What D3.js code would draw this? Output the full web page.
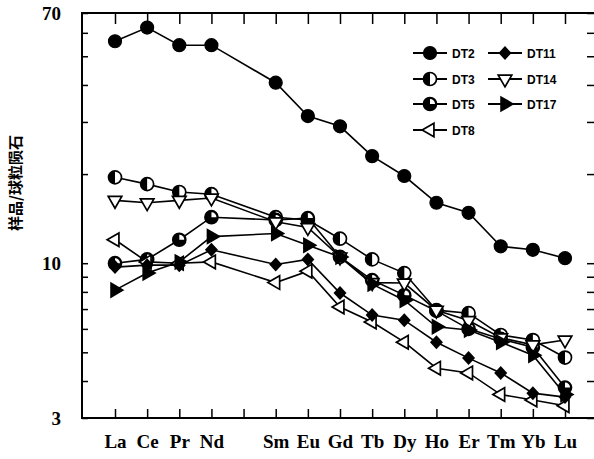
<!DOCTYPE html>
<html>
<head>
<meta charset="utf-8">
<script src="https://cdn.jsdelivr.net/npm/d3@7"></script>
<style>
  body { margin: 0; background: #fff; }
  svg { display: block; }
</style>
</head>
<body>
<div id="chart"></div>
<script>
// REE elements (Pm is left as a gap on the axis)
var elements = ['La', 'Ce', 'Pr', 'Nd', 'Pm', 'Sm', 'Eu', 'Gd', 'Tb', 'Dy', 'Ho', 'Er', 'Tm', 'Yb', 'Lu'];
var plotted = ['La', 'Ce', 'Pr', 'Nd', 'Sm', 'Eu', 'Gd', 'Tb', 'Dy', 'Ho', 'Er', 'Tm', 'Yb', 'Lu'];

// chondrite normalised values, one array per sample, in the order of "plotted"
var DT2  = [56.2, 62.5, 54.5, 54.5, 40.7, 31.4, 29.0, 23.0, 19.7, 16.0, 14.8, 11.4, 11.1, 10.4];
var DT3  = [19.5, 18.5, 17.4, 17.1, 14.3, 14.0, 12.1, 10.3, 9.26, 6.94, 6.78, 5.72, 5.50, 4.80];
var DT5  = [10.0, 10.3, 12.0, 14.3, 14.0, 14.2, 10.5, 8.77, 7.80, 6.90, 6.00, 5.55, 5.20, 3.80];
var DT8  = [12.0, 10.1, 10.0, 10.1, 8.60, 9.40, 7.11, 6.33, 5.41, 4.42, 4.26, 3.60, 3.45, 3.30];
var DT11 = [9.70, 9.85, 9.85, 11.1, 9.90, 10.3, 7.93, 6.68, 6.42, 5.41, 4.78, 4.26, 3.64, 3.53];
var DT14 = [16.3, 16.0, 16.3, 16.6, 13.8, 13.2, 10.5, 8.60, 8.57, 6.94, 6.40, 5.60, 5.30, 5.50];
var DT17 = [8.11, 9.26, 10.1, 12.3, 12.6, 11.5, 10.5, 8.50, 7.50, 6.10, 5.95, 5.41, 4.89, 3.60];

var yTickValues = [3, 4, 5, 6, 7, 8, 9, 10, 20, 30, 40, 50, 60, 70];
var yLabelValues = [3, 10, 70];
var yTitle = '样品/球粒陨石';

var series = [
    { name: 'DT2', values: DT2, marker: 'circle' },
    { name: 'DT3', values: DT3, marker: 'halfLeft' },
    { name: 'DT5', values: DT5, marker: 'quarter' },
    { name: 'DT8', values: DT8, marker: 'triLeft' },
    { name: 'DT11', values: DT11, marker: 'diamond' },
    { name: 'DT14', values: DT14, marker: 'triDown' },
    { name: 'DT17', values: DT17, marker: 'triRight' }
];

var width = 594,
    height = 459,
    frame = { left: 82, right: 594, top: 13, bottom: 418 };

var svg = d3.select('#chart').append('svg')
    .attr('width', width)
    .attr('height', height);

var xScale = d3.scalePoint().domain(elements).range([115, 565]);
var yScale = d3.scaleLog().domain([3, 70]).range([frame.bottom, frame.top]);

// draws one marker of the given kind into g
function drawMarker(g, kind) {
    var r = 6.5;
    if (kind === 'circle') {
        g.append('circle').attr('r', r).attr('fill', '#000').attr('stroke', '#000').attr('stroke-width', 1.2);
    } else if (kind === 'halfLeft') {
        g.append('circle').attr('r', r).attr('fill', '#fff').attr('stroke', '#000').attr('stroke-width', 1.7);
        g.append('path').attr('d', 'M0,' + (-r) + 'A' + r + ',' + r + ' 0 0 0 0,' + r + 'Z').attr('fill', '#000');
    } else if (kind === 'quarter') {
        g.append('circle').attr('r', r).attr('fill', '#000').attr('stroke', '#000').attr('stroke-width', 1.7);
        g.append('path').attr('d', 'M0,0L0,' + (-r + 1.5) + 'A' + (r - 1.5) + ',' + (r - 1.5) + ' 0 0 1 ' + (r - 1.5) + ',0Z').attr('fill', '#fff');
    } else if (kind === 'diamond') {
        g.append('path').attr('d', 'M0,-7L6.5,0L0,7L-6.5,0Z').attr('fill', '#000');
    } else {
        var rot = { triLeft: -90, triDown: 180, triRight: 90 }[kind];
        var filled = kind === 'triRight';
        g.append('path')
            .attr('d', d3.symbol(d3.symbolTriangle, 80)())
            .attr('transform', 'rotate(' + rot + ')')
            .attr('fill', filled ? '#000' : '#fff')
            .attr('stroke', '#000')
            .attr('stroke-width', 1.7);
    }
}

// axes: ticks only, frame drawn separately
var yAxisL = d3.axisLeft(yScale).tickValues(yTickValues).tickSizeInner(-6).tickSizeOuter(0).tickPadding(21)
    .tickFormat(function (d) { return yLabelValues.indexOf(d) >= 0 ? d : ''; });
var yAxisR = d3.axisRight(yScale).tickValues(yTickValues).tickSizeInner(-7).tickSizeOuter(0).tickFormat('');
var xAxisB = d3.axisBottom(xScale).tickSizeInner(-9).tickSizeOuter(0).tickPadding(17)
    .tickFormat(function (d) { return d === 'Pm' ? '' : d; });
var xAxisT = d3.axisTop(xScale).tickSizeInner(-11).tickSizeOuter(0).tickFormat('');

var gl = svg.append('g').attr('transform', 'translate(' + frame.left + ',0)').call(yAxisL);
var gr = svg.append('g').attr('transform', 'translate(' + frame.right + ',0)').call(yAxisR);
var gb = svg.append('g').attr('transform', 'translate(0,' + frame.bottom + ')').call(xAxisB);
var gt = svg.append('g').attr('transform', 'translate(0,' + frame.top + ')').call(xAxisT);

[gl, gr, gb, gt].forEach(function (g) {
    g.select('.domain').remove();
    g.selectAll('.tick line').attr('stroke', '#000').attr('stroke-width', 1.5);
});

gl.selectAll('.tick text')
    .attr('font-family', '"Liberation Serif", "Times New Roman", serif')
    .attr('font-weight', 'bold')
    .attr('font-size', 19)
    .attr('fill', '#000');

gb.selectAll('.tick text')
    .attr('font-family', '"Liberation Serif", "Times New Roman", serif')
    .attr('font-weight', 'bold')
    .attr('font-size', 19)
    .attr('fill', '#000');

// frame
svg.append('path')
    .attr('d', 'M' + frame.right + ',' + frame.top + 'H' + frame.left + 'V' + frame.bottom + 'H' + frame.right)
    .attr('fill', 'none')
    .attr('stroke', '#000')
    .attr('stroke-width', 2);

// y title
svg.append('text')
    .attr('transform', 'translate(21,' + 183 + ') rotate(-90)')
    .attr('text-anchor', 'middle')
    .attr('font-family', '"Noto Sans CJK SC", sans-serif')
    .attr('font-weight', 'bold')
    .attr('font-size', 15)
    .text(yTitle);

// lines + markers
var line = d3.line()
    .x(function (d, i) { return xScale(plotted[i]); })
    .y(function (d) { return yScale(d); });

series.forEach(function (s) {
    svg.append('path')
        .attr('d', line(s.values))
        .attr('fill', 'none')
        .attr('stroke', '#000')
        .attr('stroke-width', 1.6);
});

series.forEach(function (s) {
    s.values.forEach(function (v, i) {
        var g = svg.append('g')
            .attr('transform', 'translate(' + xScale(plotted[i]) + ',' + yScale(v) + ')');
        drawMarker(g, s.marker);
    });
});

// legend, two columns
var legendPos = [
    [430, 53], [430, 79], [430, 104], [430, 130],
    [505, 53], [505, 79], [505, 104]
];
var legendOrder = ['DT2', 'DT3', 'DT5', 'DT8', 'DT11', 'DT14', 'DT17'];

legendOrder.forEach(function (name, i) {
    var s = series.filter(function (d) { return d.name === name; })[0];
    var p = legendPos[i];
    var lg = svg.append('g').attr('transform', 'translate(' + p[0] + ',' + p[1] + ')');
    lg.append('line').attr('x1', -17).attr('x2', 17).attr('stroke', '#000').attr('stroke-width', 2);
    drawMarker(lg.append('g'), s.marker);
    lg.append('text')
        .attr('x', 22)
        .attr('y', 4.5)
        .attr('font-family', '"Liberation Sans", Arial, sans-serif')
        .attr('font-weight', 'bold')
        .attr('font-size', 12)
        .text(name);
});
</script>
</body>
</html>
